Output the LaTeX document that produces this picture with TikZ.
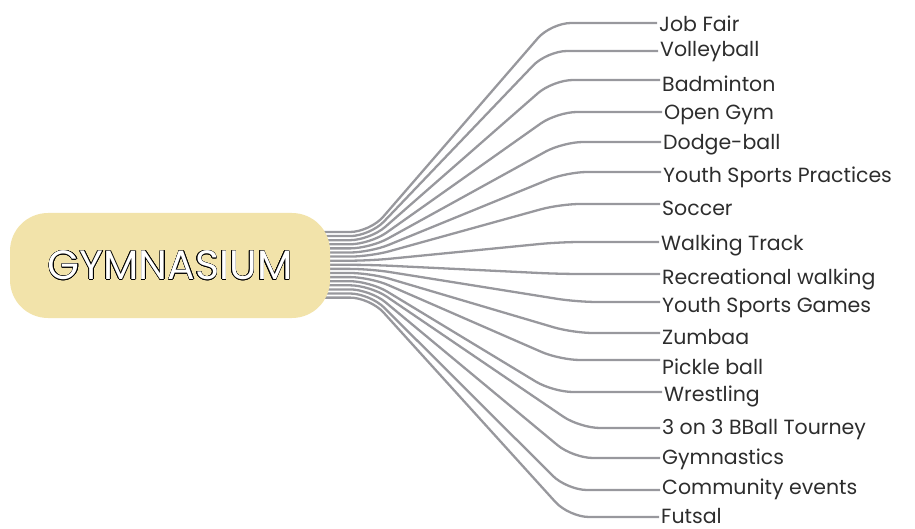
\documentclass[tikz,border=0pt]{standalone}
\usepackage{fontspec}
\setmainfont{Poppins}
\usepackage{contour}
\usetikzlibrary{positioning,backgrounds}
\definecolor{hubfill}{RGB}{242,227,170}
\definecolor{linegray}{RGB}{152,152,157}
\definecolor{labelgray}{RGB}{45,45,45}
\contourlength{0.55pt}

\begin{document}
\begin{tikzpicture}[
  x=1pt,y=-1pt,
  hub/.style={fill=hubfill,rounded corners=38pt,minimum width=320pt,minimum height=105pt,
    inner sep=0pt,text=white,font=\fontsize{41}{44}\selectfont},
  activity/.style={anchor=west,inner sep=2pt,text=labelgray,font=\fontsize{20.5}{22}\selectfont},
  branch/.style={draw=linegray,line width=2.3pt,rounded corners=20pt}]

  \useasboundingbox (0,0) rectangle (915,529);

  % The hub on the left
  \node[hub] (gym) at (170,265.5) {\contour{black}{GYMNASIUM}};

  % Activities, top to bottom
  \node[activity] (jobfair)    at (657,24)  {Job Fair};
  \node[activity] (volleyball) at (658,52)  {Volleyball};
  \node[activity] (badminton)  at (660,84)  {Badminton};
  \node[activity] (opengym)    at (662,115) {Open Gym};
  \node[activity] (dodgeball)  at (661,145) {Dodge-ball};
  \node[activity] (practices)  at (661,177) {Youth Sports Practices};
  \node[activity] (soccer)     at (660,208) {Soccer};
  \node[activity] (walking)    at (659,245) {Walking Track};
  \node[activity] (recwalking) at (660,279) {Recreational walking};
  \node[activity] (games)      at (660,308) {Youth Sports Games};
  \node[activity] (zumbaa)     at (660,337) {Zumbaa};
  \node[activity] (pickleball) at (660,367) {Pickle ball};
  \node[activity] (wrestling)  at (662,396) {Wrestling};
  \node[activity] (bball)      at (660,430) {3 on 3 BBall Tourney};
  \node[activity] (gymnastics) at (660,459) {Gymnastics};
  \node[activity] (community)  at (660,489) {Community events};
  \node[activity] (futsal)     at (659,516) {Futsal};

  % Branches fan out from the hub, drawn behind it
  \begin{scope}[on background layer]
  \draw[branch] ([xshift=-14pt]gym.east |- 0,232)   -- (370,232)   -- (551,23)  -- (jobfair.west |- 0,23);
  \draw[branch] ([xshift=-14pt]gym.east |- 0,236.1) -- (370,236.1) -- (547,51)  -- (volleyball.west |- 0,51);
  \draw[branch] ([xshift=-14pt]gym.east |- 0,240.2) -- (370,240.2) -- (553,80)  -- (badminton.west |- 0,80);
  \draw[branch] ([xshift=-14pt]gym.east |- 0,244.3) -- (370,244.3) -- (557,112) -- (opengym.west |- 0,112);
  \draw[branch] ([xshift=-14pt]gym.east |- 0,248.4) -- (370,248.4) -- (563,142) -- (dodgeball.west |- 0,142);
  \draw[branch] ([xshift=-14pt]gym.east |- 0,252.5) -- (370,252.5) -- (567,172) -- (practices.west |- 0,172);
  \draw[branch] ([xshift=-14pt]gym.east |- 0,256.6) -- (370,256.6) -- (560,204) -- (soccer.west |- 0,204);
  \draw[branch] ([xshift=-14pt]gym.east |- 0,260.7) -- (370,260.7) -- (560,242) -- (walking.west |- 0,242);
  \draw[branch] ([xshift=-14pt]gym.east |- 0,264.8) -- (370,264.8) -- (560,274) -- (recwalking.west |- 0,274);
  \draw[branch] ([xshift=-14pt]gym.east |- 0,268.9) -- (370,268.9) -- (577,302) -- (games.west |- 0,302);
  \draw[branch] ([xshift=-14pt]gym.east |- 0,273)   -- (370,273)   -- (573,333) -- (zumbaa.west |- 0,333);
  \draw[branch] ([xshift=-14pt]gym.east |- 0,277.1) -- (370,277.1) -- (560,360) -- (pickleball.west |- 0,360);
  \draw[branch] ([xshift=-14pt]gym.east |- 0,281.2) -- (370,281.2) -- (553,392) -- (wrestling.west |- 0,392);
  \draw[branch] ([xshift=-14pt]gym.east |- 0,285.3) -- (370,285.3) -- (580,428) -- (bball.west |- 0,428);
  \draw[branch] ([xshift=-14pt]gym.east |- 0,289.4) -- (370,289.4) -- (573,458) -- (gymnastics.west |- 0,458);
  \draw[branch] ([xshift=-14pt]gym.east |- 0,293.5) -- (370,293.5) -- (567,490) -- (community.west |- 0,490);
  \draw[branch] ([xshift=-14pt]gym.east |- 0,297.6) -- (370,297.6) -- (569,517) -- (futsal.west |- 0,517);
  \end{scope}

\end{tikzpicture}
\end{document}
